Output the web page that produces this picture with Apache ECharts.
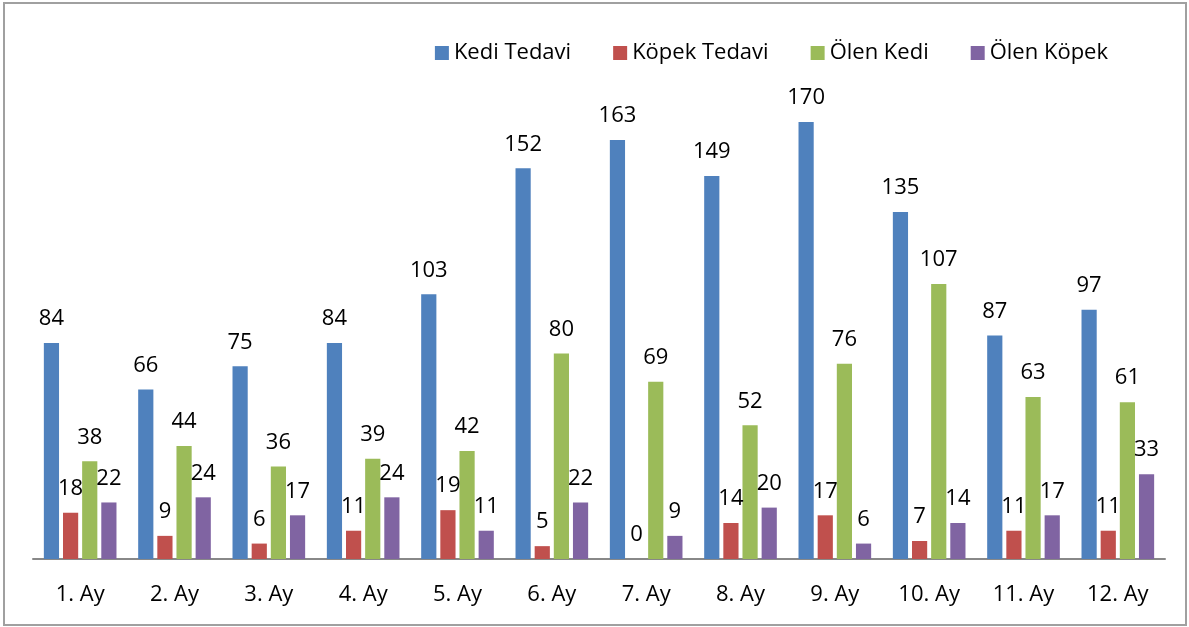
<!DOCTYPE html>
<html>
<head>
<meta charset="utf-8">
<script src="https://cdn.jsdelivr.net/npm/echarts@6/dist/echarts.min.js"></script>
<style>
html, body { margin: 0; padding: 0; background: #fff; }
#frame { position: absolute; left: 3px; top: 2px; width: 1180px; height: 620px; border: 2px solid #a0a0a0; }
#main { position: absolute; left: 0; top: 0; width: 1189px; height: 627px; }
</style>
</head>
<body>
<div id="frame"></div>
<div id="main"></div>
<script>
// aylar ve seriler
var aylar = ['1. Ay', '2. Ay', '3. Ay', '4. Ay', '5. Ay', '6. Ay', '7. Ay', '8. Ay', '9. Ay', '10. Ay', '11. Ay', '12. Ay'];
var kediTedavi = [84, 66, 75, 84, 103, 152, 163, 149, 170, 135, 87, 97];
var kopekTedavi = [18, 9, 6, 11, 19, 5, 0, 14, 17, 7, 11, 11];
var olenKedi = [38, 44, 36, 39, 42, 80, 69, 52, 76, 107, 63, 61];
var olenKopek = [22, 24, 17, 24, 11, 22, 9, 20, 6, 14, 17, 33];

var yaziTipi = 'Open Sans';

function seri(ad, veri) {
    return {
        name: ad,
        type: 'bar',
        data: veri,
        barGap: '26%',
        barCategoryGap: '23%',
        label: {
            show: true,
            position: 'top',
            distance: 13,
            color: '#000',
            fontFamily: yaziTipi,
            fontSize: 22
        }
    };
}

var myChart = echarts.init(document.getElementById('main'));
var option = {
    animation: false,
    color: ['#4F81BD', '#C0504D', '#9BBB59', '#8064A2'],
    legend: {
        top: 37,
        right: 76,
        itemWidth: 14,
        itemHeight: 14,
        itemGap: 42,
        icon: 'rect',
        textStyle: { fontFamily: yaziTipi, fontSize: 22, color: '#000' },
        data: ['Kedi Tedavi', 'Köpek Tedavi', 'Ölen Kedi', 'Ölen Köpek']
    },
    grid: { left: 33, right: 24, top: 45, bottom: 68 },
    xAxis: {
        type: 'category',
        data: aylar,
        axisLine: { lineStyle: { color: '#888', width: 2 } },
        axisTick: { show: false },
        axisLabel: { color: '#000', fontFamily: yaziTipi, fontSize: 22, margin: 25 }
    },
    yAxis: {
        type: 'value',
        min: 0,
        max: 200,
        show: false,
        splitLine: { show: false }
    },
    series: [
        seri('Kedi Tedavi', kediTedavi),
        seri('Köpek Tedavi', kopekTedavi),
        seri('Ölen Kedi', olenKedi),
        seri('Ölen Köpek', olenKopek)
    ]
};
myChart.setOption(option);
</script>
</body>
</html>
